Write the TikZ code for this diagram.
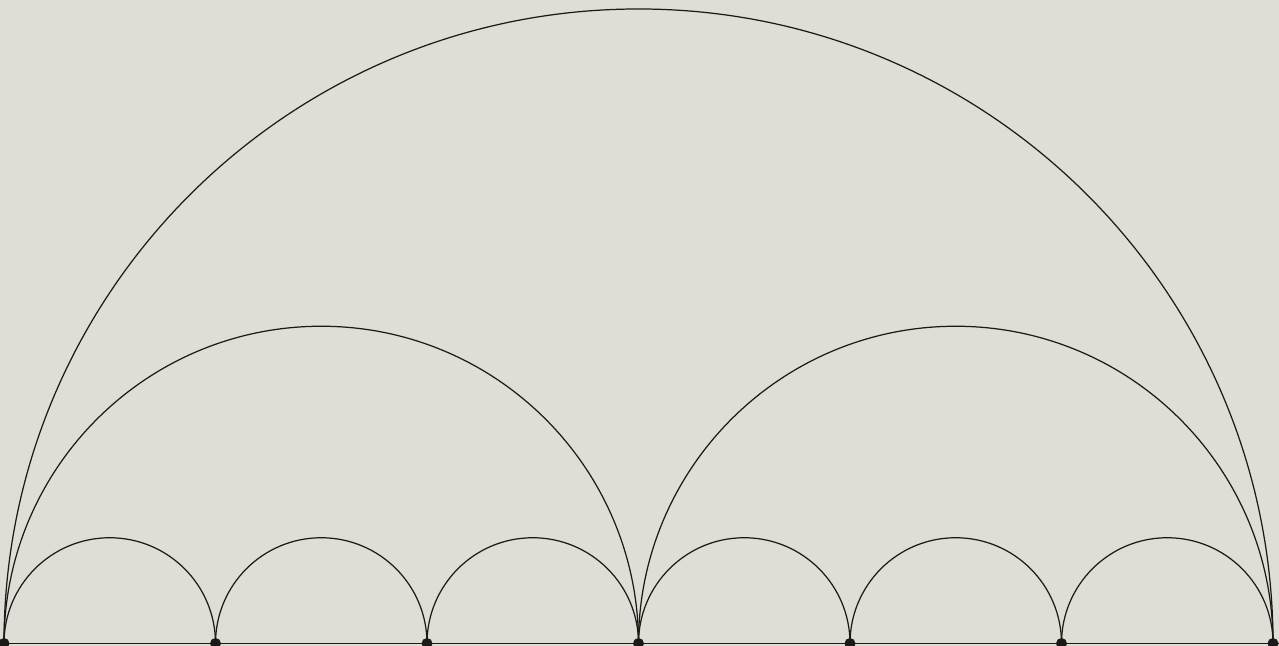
\documentclass[tikz,border=0pt]{standalone}
\usepackage{tikz}
\definecolor{paper}{RGB}{224,220,214}
\definecolor{ink}{RGB}{28,26,24}

\begin{document}
\begin{tikzpicture}[
    x=0.01cm, y=0.01cm,
    dot/.style={circle, fill=ink, inner sep=0pt, minimum size=0.11cm},
    arcline/.style={draw=ink, line width=0.35pt}
]
  % Background
  \fill[paper] (0,0) rectangle (1279,646);
  \useasboundingbox (0,0) rectangle (1279,646);

  % Base points
  \foreach \i in {0,...,6}
    \coordinate (p\i) at ({4+211.5*\i}, 2.5);

  % Baseline
  \coordinate (L) at (0,2.5);
  \coordinate (R) at (1279,2.5);
  \draw[arcline, line width=0.3pt] (L) -- (R);

  % Small arcs
  \foreach \i in {0,...,5}
    \draw[arcline] (p\i) arc[start angle=180, end angle=0, radius=105.75];

  % Medium arcs
  \draw[arcline] (p0) arc[start angle=180, end angle=0, radius=317.25];
  \draw[arcline] (p3) arc[start angle=180, end angle=0, radius=317.25];

  % Big arc
  \draw[arcline] (p0) arc[start angle=180, end angle=0, radius=634.5];

  % Dots
  \foreach \i in {0,...,6}
    \node[dot] (d\i) at (p\i) {};
\end{tikzpicture}
\end{document}
